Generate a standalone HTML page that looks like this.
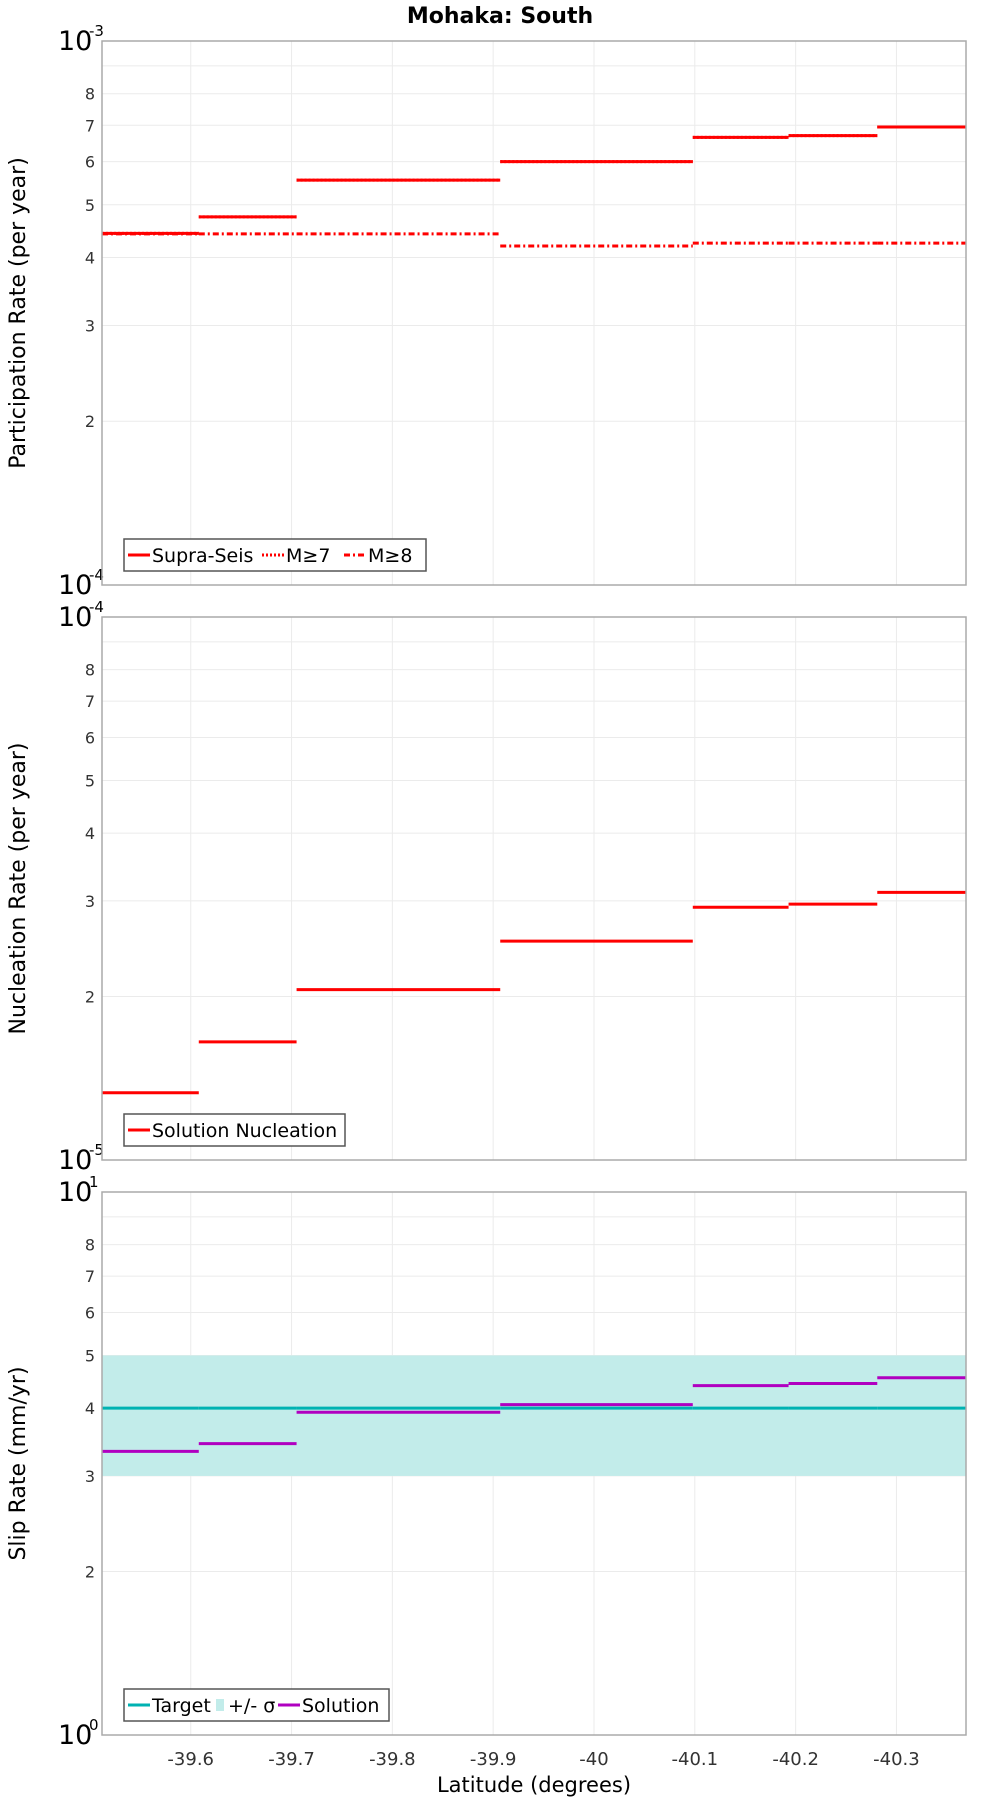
<!DOCTYPE html>
<html><head><meta charset="utf-8"><style>
body{margin:0;background:#fff;width:1000px;height:1800px;overflow:hidden}
svg{display:block;font-family:"DejaVu Sans","Liberation Sans",sans-serif}
</style></head><body>
<svg id="chart" width="1000" height="1800" xmlns="http://www.w3.org/2000/svg">
<text x="500" y="23" text-anchor="middle" font-size="22" font-weight="bold">Mohaka: South</text>
</svg>
<script>
const xTicks=[-39.6,-39.7,-39.8,-39.9,-40,-40.1,-40.2,-40.3];
const xTickLabels=["-39.6","-39.7","-39.8","-39.9","-40","-40.1","-40.2","-40.3"];
const segBounds=[-39.512,-39.608,-39.705,-39.907,-40.098,-40.193,-40.281,-40.369];
const supraSeis=[4.43e-4,4.75e-4,5.55e-4,6.0e-4,6.65e-4,6.7e-4,6.95e-4];
const m7=[4.43e-4,4.75e-4,5.55e-4,6.0e-4,6.65e-4,6.7e-4,6.95e-4];
const m8=[4.42e-4,4.42e-4,4.42e-4,4.2e-4,4.25e-4,4.25e-4,4.25e-4];
const nucleation=[1.33e-5,1.65e-5,2.06e-5,2.53e-5,2.92e-5,2.96e-5,3.11e-5];
const slipSolution=[3.33,3.44,3.93,4.06,4.40,4.44,4.55];
const slipTarget=[4,4,4,4,4,4,4];
const slipLow=[3,3,3,3,3,3,3];
const slipHigh=[5,5,5,5,5,5,5];
const minorTicks=[2,3,4,5,6,7,8];

const svg=document.getElementById('chart');
const NS='http://www.w3.org/2000/svg';
const X0=102,X1=966,XMIN=-39.512,XMAX=-40.369;
function xs(v){return X0+(v-XMIN)/(XMAX-XMIN)*(X1-X0);}
function mk(tag,attrs,parent){const e=document.createElementNS(NS,tag);for(const k in attrs)e.setAttribute(k,attrs[k]);(parent||svg).appendChild(e);return e;}

function panel(top,bot,decade,expLo,expHi,title,name){
  const g=mk('g',{});
  
  
  const ys=v=>bot-(Math.log10(v)-decade)*(bot-top);
  xTicks.forEach(t=>{const l=mk('line',{x1:xs(t),x2:xs(t),y1:top,y2:bot,stroke:'#ebebeb','stroke-width':1},g);
    
    });
  minorTicks.concat([9]).forEach(m=>{const y=ys(m*Math.pow(10,decade));const l=mk('line',{x1:X0,x2:X1,y1:y,y2:y,stroke:'#ebebeb','stroke-width':1},g);
    
    });
  minorTicks.forEach(m=>{const t=mk('text',{x:95,y:ys(m*Math.pow(10,decade))+6,'text-anchor':'end','font-size':16,fill:'#333'},g);t.textContent=m;
    
    });
  [[top,expHi],[bot,expLo]].forEach(([y,e])=>{const t=mk('text',{x:58,y:y+9,'font-size':27},g);t.textContent='10';
    
    
    const s=mk('text',{x:89,y:y-5,'font-size':15},g);s.textContent=e;
    
    });
  const yt=mk('text',{x:0,y:0,'font-size':22,'text-anchor':'middle',transform:`translate(25,${(top+bot)/2}) rotate(-90)`},g);yt.textContent=title;
  
  
  return {g,ys,top,bot};
}
function frame(p){const r=mk('rect',{x:X0,y:p.top,width:X1-X0,height:p.bot-p.top,fill:'none',stroke:'#aaa','stroke-width':1.5},p.g);
  
  }
function steps(p,vals,color,dash,name){
  vals.forEach((v,i)=>{const y=p.ys(v);const l=mk('line',{x1:xs(segBounds[i]),x2:xs(segBounds[i+1]),y1:y,y2:y,stroke:color,'stroke-width':3},p.g);
    if(dash)l.setAttribute('stroke-dasharray',dash);
    
    });
}
function legend(p,x,y,w,items){
  const g=mk('g',{},p.g);
  
  
  mk('rect',{x:x,y:y,width:w,height:32,fill:'#fff',stroke:'#555','stroke-width':1.5},g);
  let cx=x+4;
  items.forEach(it=>{
    if(it.band){mk('rect',{x:cx+2,y:y+10,width:8,height:12,fill:'#c2ecea'},g);cx+=14;}
    else{const l=mk('line',{x1:cx,x2:cx+22,y1:y+16,y2:y+16,stroke:it.color,'stroke-width':3},g);if(it.dash)l.setAttribute('stroke-dasharray',it.dash);cx+=24;}
    const t=mk('text',{x:cx,y:y+23,'font-size':19},g);t.textContent=it.label;
    
    
    cx+=it.w;
  });
}

const p1=panel(41,585,-4,'-4','-3','Participation Rate (per year)','participation');
steps(p1,supraSeis,'#ff0000',null,'supra-seis');
steps(p1,m7,'#ff0000','2 2','m7');
steps(p1,m8,'#ff0000','6 3 2 3','m8');
frame(p1);
legend(p1,124,539,302,[{color:'#f00',label:'Supra-Seis',w:110},{color:'#f00',dash:'2 2',label:'M≥7',w:58},{color:'#f00',dash:'6 3 2 3',label:'M≥8',w:50}]);

const p2=panel(617,1160,-5,'-5','-4','Nucleation Rate (per year)','nucleation');
steps(p2,nucleation,'#ff0000',null,'solution-nucleation');
frame(p2);
legend(p2,124,1114,221,[{color:'#f00',label:'Solution Nucleation',w:190}]);

const p3=panel(1192,1735,0,'0','1','Slip Rate (mm/yr)','slip-rate');
slipHigh.forEach((v,i)=>{const y1=p3.ys(v),y2=p3.ys(slipLow[i]);const r=mk('rect',{x:xs(segBounds[i]),y:y1,width:xs(segBounds[i+1])-xs(segBounds[i])+0.5,height:y2-y1,fill:'#c2ecea'},p3.g);
  
  });
steps(p3,slipTarget,'#00b2b2',null,'target');
steps(p3,slipSolution,'#b000c0',null,'solution');
frame(p3);
legend(p3,124,1689,265,[{color:'#00b2b2',label:'Target',w:62},{band:true,label:'+/- σ',w:50},{color:'#b000c0',label:'Solution',w:80}]);

xTicks.forEach((t,i)=>{const e=mk('text',{x:xs(t),y:1765,'text-anchor':'middle','font-size':18,fill:'#333'});e.textContent=xTickLabels[i];
  
  });
const xt=mk('text',{x:534,y:1792,'text-anchor':'middle','font-size':21});xt.textContent='Latitude (degrees)';


</script>
</body></html>
